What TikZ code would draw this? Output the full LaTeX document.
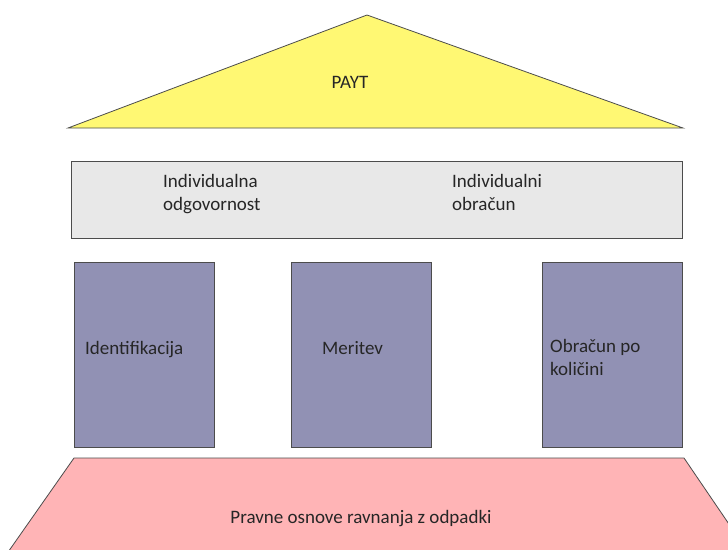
\documentclass[tikz,border=0pt]{standalone}
\usepackage{fontspec}
\setmainfont{Carlito}
\begin{document}
\begin{tikzpicture}[x=1pt,y=-1pt,
  outline/.style={draw=black!70, line width=0.8pt},
  roof/.style={outline, fill=yellow!55},
  beam/.style={outline, fill=black!9},
  pillar/.style={outline, fill={rgb,255:red,145;green,145;blue,180}, inner sep=0pt},
  base/.style={outline, fill={rgb,255:red,255;green,180;blue,182}},
  label/.style={font=\fontsize{19}{22.5}\selectfont, text=black!85, align=left, inner sep=0pt}]
  \useasboundingbox (0,0) rectangle (728,549);
  \clip (0,0) rectangle (728,549);

  % roof
  \filldraw[roof] (367,15) -- (683,128) -- (68,128) -- cycle;
  \node[label, anchor=base] (payt) at (350,88) {PAYT};

  % beam (multi-line labels are placed by the baseline of their last line)
  \node[beam, minimum width=611pt, minimum height=77pt, anchor=north west] (beamrect) at (71,161) {};
  \node[label, anchor=base west] (odg) at (163,210) {Individualna\\odgovornost};
  \node[label, anchor=base west] (obr) at (452,210) {Individualni\\obračun};

  % pillars
  \node[pillar, minimum width=140pt, minimum height=185pt, anchor=north west] (p1) at (74,262) {};
  \node[pillar, minimum width=140pt, minimum height=185pt, anchor=north west] (p2) at (291,262) {};
  \node[pillar, minimum width=140pt, minimum height=185pt, anchor=north west] (p3) at (542,262) {};
  \node[label, anchor=base west] (t1) at (85,354) {Identifikacija};
  \node[label, anchor=base west] (t2) at (322,354) {Meritev};
  \node[label, anchor=base west] (t3) at (550,375) {Obračun po\\količini};

  % foundation
  \filldraw[base] (74,458) -- (684,458) -- (750,555) -- (6,555) -- cycle;
  \node[label, anchor=base] (law) at (361,523) {Pravne osnove ravnanja z odpadki};
\end{tikzpicture}
\end{document}
